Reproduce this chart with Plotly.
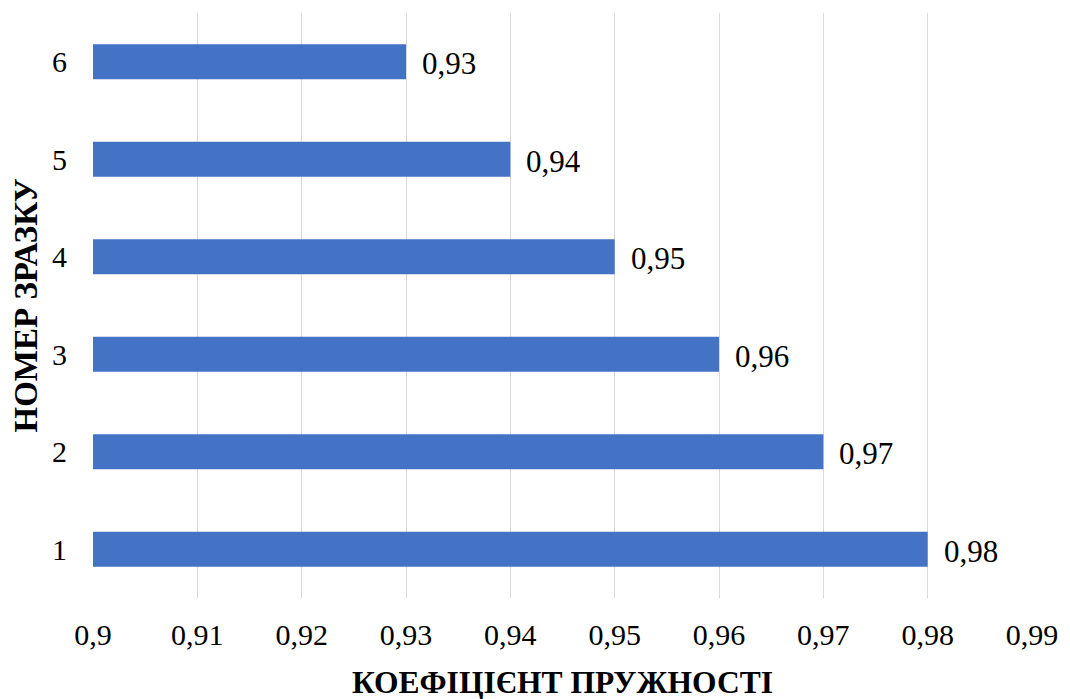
import plotly.graph_objects as go

categories = [1, 2, 3, 4, 5, 6]
values = [0.98, 0.97, 0.96, 0.95, 0.94, 0.93]
labels = ["0,98", "0,97", "0,96", "0,95", "0,94", "0,93"]
tick_vals = [0.9, 0.91, 0.92, 0.93, 0.94, 0.95, 0.96, 0.97, 0.98, 0.99]
tick_text = ["0,9", "0,91", "0,92", "0,93", "0,94", "0,95", "0,96", "0,97", "0,98", "0,99"]

FONT = "Liberation Serif"

fig = go.Figure()
fig.add_trace(go.Bar(
    y=categories, x=[v - 0.9 for v in values], base=0.9,
    orientation="h", width=0.36,
    marker=dict(color="#4472C4", line=dict(width=0)),
    hoverinfo="skip",
))
for c, v, t in zip(categories, values, labels):
    fig.add_annotation(x=v, y=c, text=t, showarrow=False, xanchor="left",
                       xshift=14, yshift=-2, font=dict(family=FONT, size=31, color="black"))

fig.update_layout(
    width=1070, height=699,
    margin=dict(l=93, r=33, t=13, b=101),
    paper_bgcolor="white", plot_bgcolor="white",
    showlegend=False,
    font=dict(family=FONT, size=30, color="black"),
    xaxis=dict(range=[0.9, 0.99], tickvals=tick_vals, ticktext=tick_text,
               showgrid=True, gridcolor="#D9D9D9", gridwidth=1.3, zeroline=False,
               showline=False, ticks="", ticklabelstandoff=16,
               tickfont=dict(family=FONT, size=30, color="black")),
    yaxis=dict(range=[0.5, 6.5], tickvals=categories, ticktext=[str(c) for c in categories],
               showgrid=False, zeroline=False, showline=False,
               ticks="", ticklabelstandoff=25,
               tickfont=dict(family=FONT, size=30, color="black")),
)
fig.add_annotation(xref="paper", yref="paper", x=0.5, y=0, yshift=-84, xanchor="center",
                   yanchor="middle", showarrow=False, text="<b>КОЕФІЦІЄНТ ПРУЖНОСТІ</b>",
                   font=dict(family=FONT, size=31.5, color="black"))
fig.add_annotation(xref="paper", yref="paper", x=0, xshift=-68, y=0.5, xanchor="center",
                   yanchor="middle", showarrow=False, textangle=-90, text="<b>НОМЕР ЗРАЗКУ</b>",
                   font=dict(family=FONT, size=33, color="black"))
fig.write_html("out.html")
